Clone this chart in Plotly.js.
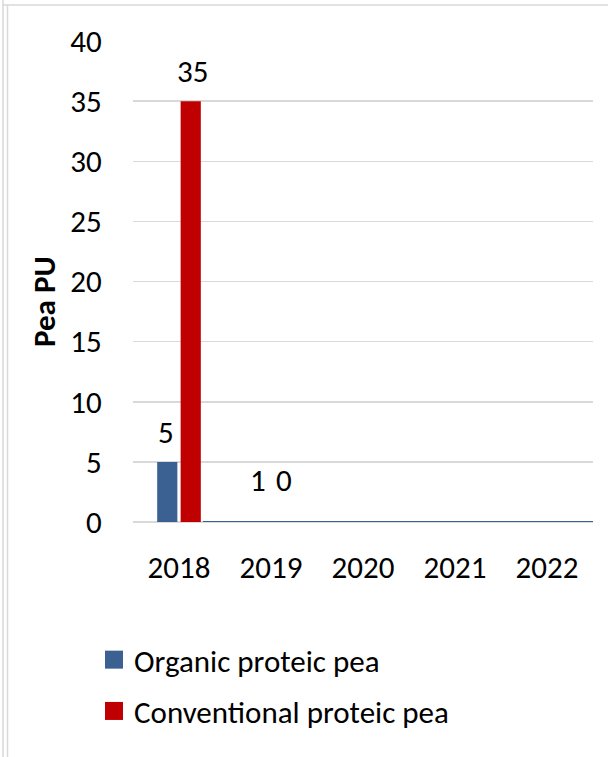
<!DOCTYPE html>
<html>
<head>
<meta charset="utf-8">
<script src="https://cdn.plot.ly/plotly-3.0.1.min.js"></script>
<style>
  html, body { margin: 0; padding: 0; background: #ffffff; }
  #chart { width: 608px; height: 757px; }
</style>
</head>
<body>
<div id="chart"></div>
<script>
// ---- data ----
var years = ["2018", "2019", "2020", "2021", "2022"];
var organic = [5, 0, 0, 0, 0];
var conventional = [35, 0, 0, 0, 0];
var organicLabels = ["5", "1", "", "", ""];
var conventionalLabels = ["35", "0", "", "", ""];
var organicLabelAt = [5, 1, 0, 0, 0];
var conventionalLabelAt = [35, 1, 0, 0, 0];
var yTicks = [0, 5, 10, 15, 20, 25, 30, 35, 40];
var seriesNames = ["Organic proteic pea", "Conventional proteic pea"];
var yTitle = "Pea PU";

var FONT = 'Carlito, "Liberation Sans", Arial, sans-serif';
var BLUE = '#3a6192';
var RED = '#c00000';

var traces = [
  {
    type: 'bar', name: seriesNames[0], x: years, y: organic,
    marker: { color: BLUE }, legendgroup: 'a', hoverinfo: 'x+y'
  },
  {
    type: 'bar', name: seriesNames[1], x: years, y: conventional,
    marker: { color: RED }, legendgroup: 'b', hoverinfo: 'x+y'
  }
];

var L = 133, R = 15, T = 41, B = 235, W = 608, H = 757;
var pw = W - L - R, ph = H - T - B;
function px(x) { return (x - L) / pw; }
function py(y) { return (H - B - y) / ph; }

var annotations = [];
function addLabels(texts, at, shift) {
  for (var i = 0; i < years.length; i++) {
    if (!texts[i]) continue;
    annotations.push({
      x: i, y: at[i], xref: 'x', yref: 'y',
      text: texts[i], showarrow: false,
      xanchor: 'center', yanchor: 'bottom',
      xshift: shift, yshift: 9,
      font: { family: FONT, size: 31, color: '#000000' }
    });
  }
}
addLabels(organicLabels, organicLabelAt, -13);
addLabels(conventionalLabels, conventionalLabelAt, 13);

// y axis title
annotations.push({
  xref: 'paper', yref: 'paper', x: px(44), y: py(302),
  xanchor: 'center', yanchor: 'middle', textangle: -90,
  text: '<b>' + yTitle + '</b>', showarrow: false,
  font: { family: FONT, size: 31, color: '#000000' }
});

var shapes = [
  { type: 'line', xref: 'x', yref: 'y', x0: 0.26, x1: 4.5, y0: 0, y1: 0,
    line: { color: BLUE, width: 2 } },
  { type: 'line', xref: 'paper', yref: 'paper', x0: px(3), x1: px(3), y0: py(0), y1: py(757),
    line: { color: '#d9d9d9', width: 1.5 } },
  { type: 'line', xref: 'paper', yref: 'paper', x0: px(7.5), x1: px(7.5), y0: py(5), y1: py(757),
    line: { color: '#d9d9d9', width: 1.5 } },
  { type: 'line', xref: 'paper', yref: 'paper', x0: px(3), x1: px(608), y0: py(5), y1: py(5),
    line: { color: '#d9d9d9', width: 1.5 } }
];

var layout = {
  width: W, height: H,
  margin: { l: L, r: R, t: T, b: B, pad: 0 },
  paper_bgcolor: '#ffffff', plot_bgcolor: '#ffffff',
  font: { family: FONT, size: 31, color: '#000000' },
  barmode: 'group', bargap: 0.49, bargroupgap: 0.14,
  showlegend: true,
  legend: {
    orientation: 'v', xref: 'paper', yref: 'paper',
    x: px(94), y: py(633), xanchor: 'left', yanchor: 'top',
    traceorder: 'grouped', tracegroupgap: 8,
    font: { family: FONT, size: 31, color: '#000000' },
    bgcolor: 'rgba(0,0,0,0)'
  },
  xaxis: {
    type: 'category', range: [-0.5, 4.5],
    showgrid: false, showline: false, zeroline: false,
    ticks: 'outside', ticklen: 18, tickcolor: 'rgba(0,0,0,0)',
    tickfont: { family: FONT, size: 31, color: '#000000' }
  },
  yaxis: {
    range: [0, 40], tickvals: yTicks, ticktext: yTicks.map(String),
    showgrid: true, gridcolor: '#d9d9d9', gridwidth: 1.5,
    zeroline: true, zerolinecolor: '#d9d9d9', zerolinewidth: 1.5,
    showline: false,
    ticks: 'outside', ticklen: 24, tickcolor: 'rgba(0,0,0,0)',
    tickfont: { family: FONT, size: 31, color: '#000000' }
  },
  annotations: annotations,
  shapes: shapes
};

Plotly.newPlot('chart', traces, layout, { displayModeBar: false, staticPlot: true }).then(function () {
  var paths = document.querySelectorAll('#chart .legend .legendpoints path');
  paths.forEach(function (p) { p.setAttribute('d', 'M9,9H-9V-9H9Z'); });
});
</script>
</body>
</html>
